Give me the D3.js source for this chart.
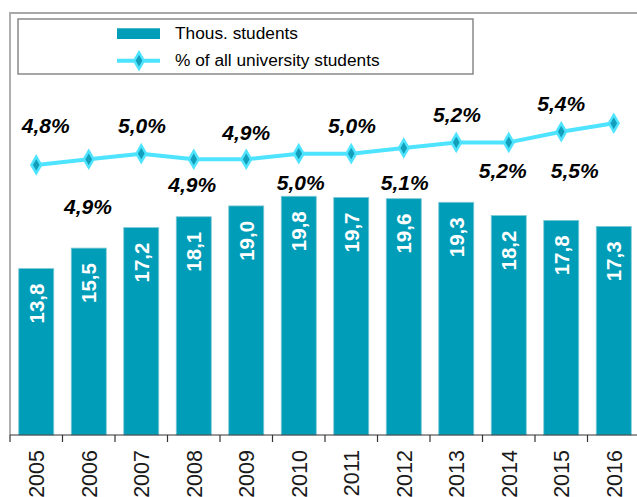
<!DOCTYPE html>
<html><head><meta charset="utf-8">
<script src="https://cdn.jsdelivr.net/npm/d3@7"></script>
<style>body{margin:0;background:#fff;overflow:hidden}svg{display:block;font-family:"Liberation Sans",Arial,sans-serif}</style>
</head><body>
<svg id="c" width="637" height="497"></svg>
<script>
const years = ["2005","2006","2007","2008","2009","2010","2011","2012","2013","2014","2015","2016"];
const students = [13.8,15.5,17.2,18.1,19.0,19.8,19.7,19.6,19.3,18.2,17.8,17.3];
const share = [4.8,4.9,5.0,4.9,4.9,5.0,5.0,5.1,5.2,5.2,5.39,5.54];
const shareLabels = ["4,8%","4,9%","5,0%","4,9%","4,9%","5,0%","5,0%","5,1%","5,2%","5,2%","5,4%","5,5%"];
const legendLabels = ["Thous. students","% of all university students"];
// label nudges relative to each point (layout only)
const labelNudge = [[9.5,-39],[-0.7,47.4],[0.7,-28.7],[-1.5,24.7],[0,-27.3],[2,28.8],[0.7,-28.7],[1,34.7],[0.7,-28.3],[-6,27.7],[0,-28.7],[-39,47.2]];

(function(){
const svg = d3.select("#c");
const pLeft = 10, pRight = 640, pTop = 13, pBottom = 435;
const barColor = "#009db8", lineColor = "#4ee3ff", markerColor = "#129fbb";

const x = d3.scaleBand().domain(years).range([pLeft, pRight]).paddingInner(1/3).paddingOuter(1/6);
const y = d3.scaleLinear().domain([0, 35]).range([pBottom, pTop]);
const y2 = d3.scaleLinear().domain([0, 7.5]).range([pBottom, pTop]);
const fmt = v => d3.format(".1f")(v).replace(".", ",");

// frame
svg.append("path").attr("d", `M${pLeft},${pBottom} V${pTop} H637`).attr("fill","none").attr("stroke","#a8a8a8").attr("stroke-width",1.8);

// bars
svg.append("g").selectAll("rect").data(students).join("rect")
  .attr("x",(d,i)=>x(years[i])).attr("y",d=>y(d))
  .attr("width",x.bandwidth()).attr("height",d=>pBottom-y(d))
  .attr("fill",barColor).attr("stroke","#7cc9d6").attr("stroke-width",0.8);

// bar value labels
svg.append("g").selectAll("text").data(students).join("text")
  .attr("transform",(d,i)=>`translate(${x(years[i])+x.bandwidth()/2},${y(d)+15}) rotate(-90)`)
  .attr("text-anchor","end").attr("dy","0.36em")
  .attr("fill","#fff").attr("font-weight","bold").attr("font-size",20.5)
  .text(d=>fmt(d));

// x axis
const xAxis = d3.axisBottom(x).tickSize(0).tickFormat("");
const ax = svg.append("g").attr("transform",`translate(0,${pBottom})`).call(xAxis);
ax.select(".domain").remove();
svg.append("line").attr("x1",pLeft).attr("x2",637).attr("y1",pBottom).attr("y2",pBottom).attr("stroke","#333").attr("stroke-width",1.2);
const bounds = years.map(yr => x(yr) - x.step()*x.paddingInner()/2).concat([pRight]);
svg.append("g").selectAll("line").data(bounds).join("line")
  .attr("x1",d=>d).attr("x2",d=>d).attr("y1",pBottom).attr("y2",pBottom+7)
  .attr("stroke","#333").attr("stroke-width",1.2);
svg.append("g").selectAll("text").data(years).join("text")
  .attr("transform",d=>`translate(${x(d)+x.bandwidth()/2},450) rotate(-90)`)
  .attr("text-anchor","end").attr("dy","0.36em")
  .attr("font-size",21.5).attr("fill","#1a1a1a").text(d=>d);

// line
const cx = i => x(years[i]) + x.bandwidth()/2;
const line = d3.line().x((d,i)=>cx(i)).y(d=>y2(d));
svg.append("path").datum(share).attr("d",line).attr("fill","none").attr("stroke",lineColor).attr("stroke-width",4).attr("stroke-linejoin","round");
const diamond = d3.symbol().type(d3.symbolDiamond).size(80);
svg.append("g").selectAll("path").data(share).join("path")
  .attr("d",diamond).attr("transform",(d,i)=>`translate(${cx(i)},${y2(d)})`)
  .attr("fill",markerColor).attr("stroke",lineColor).attr("stroke-width",2.5);

// percent labels
svg.append("g").selectAll("text").data(share).join("text")
  .attr("x",(d,i)=>cx(i)+labelNudge[i][0]).attr("y",(d,i)=>y2(d)+labelNudge[i][1])
  .attr("dy","0.36em").attr("text-anchor","middle")
  .attr("font-size",21).attr("font-weight","bold").attr("font-style","italic").attr("fill","#000")
  .text((d,i)=>shareLabels[i]);

// legend
const lg = svg.append("g");
lg.append("rect").attr("x",18).attr("y",19).attr("width",455).attr("height",55).attr("fill","#fff").attr("stroke","#808080").attr("stroke-width",1.4);
lg.append("rect").attr("x",117).attr("y",28.3).attr("width",43).attr("height",10.7).attr("fill",barColor);
lg.append("line").attr("x1",117).attr("x2",160).attr("y1",60.7).attr("y2",60.7).attr("stroke",lineColor).attr("stroke-width",4);
lg.append("path").attr("d",diamond).attr("transform","translate(139,60.7)").attr("fill",markerColor).attr("stroke",lineColor).attr("stroke-width",2.5);
lg.selectAll("text").data(legendLabels).join("text")
  .attr("x",175).attr("y",(d,i)=>i===0?38.7:65.7).attr("font-size",17.3).attr("fill","#000").text(d=>d);
})();
</script>
</body></html>
